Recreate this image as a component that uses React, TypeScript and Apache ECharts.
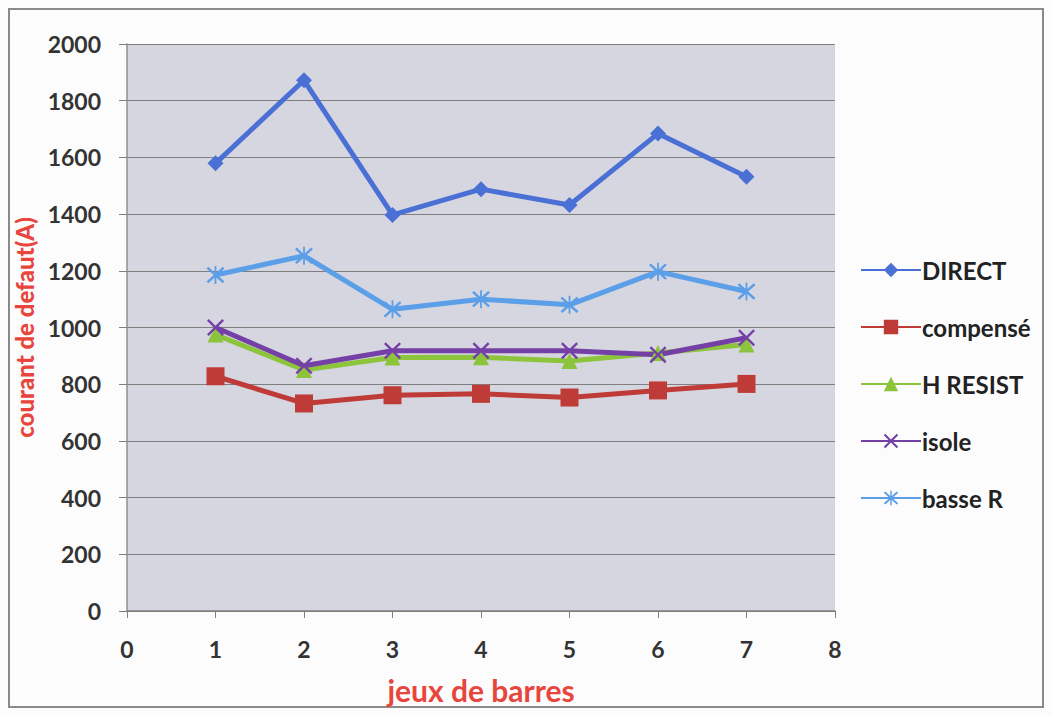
import React, { useEffect, useRef } from "react";
import * as echarts from "echarts";

const xValues = [1, 2, 3, 4, 5, 6, 7];
const direct = [1579, 1872, 1397, 1488, 1432, 1684, 1532];
const compense = [828, 732, 761, 766, 753, 778, 801];
const hResist = [975, 850, 894, 895, 882, 910, 940];
const isole = [1000, 865, 918, 918, 918, 904, 964];
const basseR = [1185, 1253, 1064, 1100, 1080, 1197, 1127];
const seriesNames = ["DIRECT", "compensé", "H RESIST", "isole", "basse R"];

const X_PATH =
  "path://M2,0 L10,8 L18,0 L20,2 L12,10 L20,18 L18,20 L10,12 L2,20 L0,18 L8,10 L0,2 Z";
const STAR_PATH =
  "path://M2,0 L10,8 L18,0 L20,2 L12,10 L20,18 L18,20 L10,12 L2,20 L0,18 L8,10 L0,2 Z M9,-1 L11,-1 L11,21 L9,21 Z";

const pairs = (ys: number[]) => xValues.map((x, i) => [x, ys[i]]);

export default function App() {
  const ref = useRef<HTMLDivElement>(null);
  useEffect(() => {
    if (!ref.current) return;
    const chart = echarts.init(ref.current, undefined, { renderer: "svg" });
    const font = "Lato, 'Open Sans', sans-serif";
    const mk = (name: string, data: number[], color: string, symbol: string, size: number) => ({
      name,
      type: "line",
      data: pairs(data),
      symbol,
      symbolSize: size,
      lineStyle: { color, width: 5 },
      itemStyle: { color, borderWidth: 0 },
    });
    chart.setOption({
      animation: false,
      backgroundColor: "#fcfcfc",
      textStyle: { fontFamily: font },
      graphic: [
        {
          type: "rect",
          shape: { x: 9, y: 9, width: 1034, height: 698 },
          style: { fill: "none", stroke: "#8a8a8a", lineWidth: 2 },
        },
      ],
      grid: {
        left: 127,
        top: 44,
        width: 708,
        height: 567,
        show: true,
        backgroundColor: "#d6d6e0",
        borderWidth: 0,
      },
      legend: {
        orient: "vertical",
        left: 855,
        top: 253,
        itemWidth: 60,
        itemHeight: 18,
        itemGap: 33,
        data: seriesNames,
        textStyle: { fontFamily: font, fontSize: 24, fontWeight: "bold", color: "#222", padding: [0, 0, 0, -4] },
      },
      xAxis: {
        type: "value",
        min: 0,
        max: 8,
        interval: 1,
        name: "jeux de barres",
        nameLocation: "middle",
        nameGap: 64,
        nameTextStyle: { color: "#e8453c", fontSize: 30, fontWeight: "bold", fontFamily: font },
        axisLine: { show: true, lineStyle: { color: "#7f7f7f", width: 1.5 } },
        axisTick: { show: true, length: 7, lineStyle: { color: "#7f7f7f" } },
        axisLabel: { color: "#333", fontSize: 23, fontWeight: "bold", margin: 26 },
        splitLine: { show: false },
      },
      yAxis: {
        type: "value",
        min: 0,
        max: 2000,
        interval: 200,
        name: "courant de defaut(A)",
        nameLocation: "middle",
        nameGap: 74,
        nameTextStyle: { color: "#e8453c", fontSize: 24, fontWeight: "900", fontFamily: font },
        axisLine: { show: true, lineStyle: { color: "#8f8f8f", width: 1.5 } },
        axisTick: { show: true, length: 8, lineStyle: { color: "#7f7f7f" } },
        axisLabel: {
          color: "#333",
          fontSize: 23,
          fontWeight: "bold",
          margin: 26,
          formatter: (v: number) => String(v),
        },
        splitLine: { show: true, lineStyle: { color: "#7f7f7f", width: 1.2 } },
      },
      series: [
        mk("DIRECT", direct, "#4a6fd5", "diamond", 16),
        mk("compensé", compense, "#bf3b37", "rect", 18),
        mk("H RESIST", hResist, "#8cc43c", "triangle", 16),
        mk("isole", isole, "#7440a6", X_PATH, 17),
        mk("basse R", basseR, "#5a9fe8", STAR_PATH, 18),
      ],
    });
    return () => chart.dispose();
  }, []);
  return (
    <div
      ref={ref}
      style={{ position: "absolute", left: 0, top: 0, width: 1052, height: 716 }}
    />
  );
}
